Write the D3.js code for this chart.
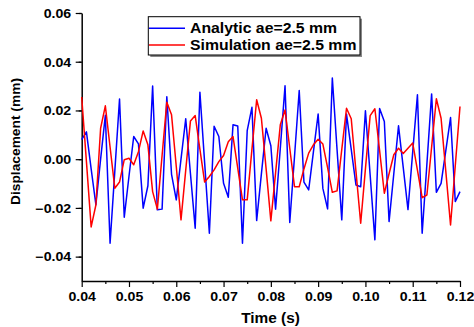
<!DOCTYPE html>
<html>
<head>
<meta charset="utf-8">
<script src="https://cdn.jsdelivr.net/npm/d3@7"></script>
<style>
  body { margin: 0; background: #fff; }
  svg { display: block; }
  text { font-family: "Liberation Sans", Arial, sans-serif; font-weight: bold; fill: #000; }
</style>
</head>
<body>
<div id="chart"></div>
<script>
// time axis: samples every 0.001 s from 0.040 to 0.120
var t0 = 0.040, dt = 0.001;

var analytic = [
  0.008, 0.0112, -0.004, -0.0187, 0.000, 0.018, -0.0345, -0.005, 0.0247, -0.0238,
  -0.007, 0.0093, 0.0063, -0.0201, -0.0109, 0.0300, -0.0208, -0.0205, 0.0256, -0.0062,
  -0.0167, 0.000, 0.0166, -0.006, -0.0283, 0.0275, -0.0015, -0.0304, 0.0135, 0.0093,
  -0.0099, -0.0156, 0.0141, 0.0136, -0.0345, 0.0117, 0.0213, -0.0252, -0.006, 0.0127,
  0.0055, -0.0205, 0.0045, 0.0301, -0.026, 0.001, 0.0282, -0.0094, -0.0126, 0.003,
  0.0185, -0.012, -0.0204, 0.0333, 0.004, -0.0249, 0.0185, 0.004, -0.0106, -0.0113,
  0.0199, -0.0065, -0.0331, 0.0208, 0.0155, -0.0256, -0.006, 0.0137, -0.0035, -0.0207,
  0.003, 0.0264, -0.0304, -0.002, 0.0268, -0.0136, -0.0099, 0.0035, 0.0171, -0.0174,
  -0.0133
];

var simulation = [
  0.0255, -0.001, -0.0278, -0.0188, 0.0127, 0.0219, 0.005, -0.0119, -0.0094, -0.0002,
  0.0004, -0.0023, 0.0031, 0.0116, 0.0059, -0.0133, -0.0205, 0.0015, 0.0234, 0.0182,
  -0.003, -0.0249, -0.0045, 0.0157, 0.0179, 0.004, -0.0094, -0.0071, -0.0044, -0.001,
  0.0015, 0.0072, 0.0093, -0.0037, -0.0167, -0.0167, 0.004, 0.0244, 0.0168, -0.004,
  -0.0253, -0.0056, 0.0141, 0.0202, 0.0045, -0.0113, -0.0113, -0.004, 0.0025, 0.0059,
  0.0082, 0.0062, -0.0035, -0.0136, -0.013, 0.004, 0.0209, 0.0166, -0.005, -0.0263,
  -0.004, 0.0179, 0.0207, 0.0035, -0.014, -0.006, 0.0018, 0.0045, 0.0023, 0.0045,
  0.0066, -0.0045, -0.0158, -0.0147, 0.005, 0.0248, 0.0168, -0.005, -0.027, -0.0027,
  0.0216
];

var xTicks = [0.04, 0.05, 0.06, 0.07, 0.08, 0.09, 0.10, 0.11, 0.12];
var yTicks = [-0.04, -0.02, 0.00, 0.02, 0.04, 0.06];
var seriesNames = ["Analytic ae=2.5 mm", "Simulation ae=2.5 mm"];
var seriesColors = ["#0000ff", "#ff0000"];

var width = 474, height = 327;

var svg = d3.select('#chart').append('svg')
  .attr('width', width)
  .attr('height', height);

var x = d3.scaleLinear().domain([0.04, 0.12]).range([81.7, 460]);
var y = d3.scaleLinear().domain([-0.05, 0.06]).range([281, 13]);

// minor ticks first so the major ones sit on top
var xMinor = d3.range(0.045, 0.12, 0.01);
var yMinor = d3.range(-0.05, 0.06, 0.02).map(function (d) { return d + 0.01; });

svg.append('g')
  .attr('transform', 'translate(0,281)')
  .call(d3.axisBottom(x).tickValues(xMinor).tickSize(3).tickFormat(''))
  .call(function (g) { g.select('.domain').remove(); })
  .selectAll('line').attr('stroke-width', 1.2);

svg.append('g')
  .attr('transform', 'translate(81.7,0)')
  .call(d3.axisLeft(y).tickValues(yMinor).tickSize(3).tickFormat(''))
  .call(function (g) { g.select('.domain').remove(); })
  .selectAll('line').attr('stroke-width', 1.2);

var xAxis = svg.append('g')
  .attr('transform', 'translate(0,281)')
  .call(d3.axisBottom(x).tickValues(xTicks).tickSize(6).tickSizeOuter(0)
    .tickFormat(d3.format('.2f')));

var yAxis = svg.append('g')
  .attr('transform', 'translate(81.7,0)')
  .call(d3.axisLeft(y).tickValues(yTicks).tickSize(6).tickSizeOuter(0)
    .tickFormat(d3.format('.2f')));

[xAxis, yAxis].forEach(function (g) {
  g.select('.domain').attr('stroke-width', 1.5);
  g.selectAll('line').attr('stroke-width', 1.2);
  g.selectAll('text').attr('font-size', 12).attr('fill', '#000');
});

// the original type is slightly wide, stretch horizontally
xAxis.selectAll('text')
  .attr('y', null).attr('dy', null)
  .attr('transform', 'translate(0,19.5) scale(1.18,1)');

yAxis.selectAll('text')
  .attr('x', null)
  .attr('transform', 'translate(-10.5,0.5) scale(1.18,1)');

// series
var line = d3.line()
  .x(function (d, i) { return x(t0 + i * dt); })
  .y(function (d) { return y(d); });

[analytic, simulation].forEach(function (s, k) {
  svg.append('path')
    .datum(s)
    .attr('fill', 'none')
    .attr('stroke', seriesColors[k])
    .attr('stroke-width', 1.5)
    .attr('stroke-linejoin', 'round')
    .attr('d', line);
});

// axis titles
svg.append('text')
  .attr('transform', 'translate(270.5,322.7) scale(1.1,1)')
  .attr('text-anchor', 'middle')
  .attr('font-size', 14)
  .text('Time (s)');

svg.append('text')
  .attr('transform', 'translate(20,141.5) rotate(-90) scale(1.06,1)')
  .attr('text-anchor', 'middle')
  .attr('font-size', 13)
  .text('Displacement (mm)');

// legend
var lg = svg.append('g').attr('class', 'legend');
lg.append('rect')
  .attr('x', 150.3).attr('y', 18.7)
  .attr('width', 211.7).attr('height', 38.3)
  .attr('fill', '#888');
lg.append('rect')
  .attr('x', 148.3).attr('y', 16.7)
  .attr('width', 211.7).attr('height', 38.3)
  .attr('fill', '#fff')
  .attr('stroke', '#000')
  .attr('stroke-width', 1);

seriesNames.forEach(function (name, k) {
  var ly = 28.3 + k * 16.7;
  lg.append('line')
    .attr('x1', 149).attr('x2', 185)
    .attr('y1', ly).attr('y2', ly)
    .attr('stroke', seriesColors[k])
    .attr('stroke-width', 1.5);
  lg.append('text')
    .attr('transform', 'translate(190,' + (ly + 4.8) + ') scale(1.13,1)')
    .attr('font-size', 14)
    .text(name);
});
</script>
</body>
</html>
